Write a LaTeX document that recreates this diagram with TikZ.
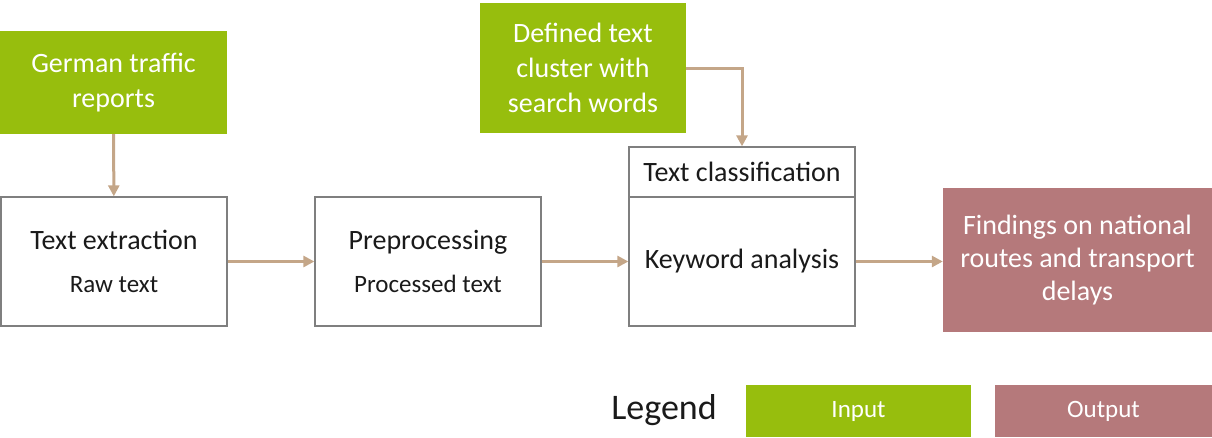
\documentclass[tikz,border=0pt]{standalone}
\usepackage{fontspec}
\setmainfont{Carlito}
\usetikzlibrary{arrows.meta, positioning}
\definecolor{cinput}{HTML}{97BE0D}
\definecolor{coutput}{HTML}{B5797B}
\definecolor{carrow}{HTML}{C4A688}
\definecolor{cframe}{HTML}{7F7F7F}
\definecolor{ctext}{HTML}{1A1A1A}
\tikzset{
  every picture/.style={x=1pt, y=-1pt},
  stepbox/.style={draw=cframe, line width=1.3pt, fill=white, align=center, text=ctext, inner sep=0pt, minimum width=226pt, minimum height=129pt, font=\fontsize{28}{34}\selectfont},
  inbox/.style={fill=cinput, text=white, align=center, inner sep=0pt, font=\fontsize{28}{35}\selectfont},
  outbox/.style={fill=coutput, text=white, align=center, inner sep=0pt, font=\fontsize{28}{33}\selectfont},
  flow/.style={-{Triangle[length=11pt, width=11pt]}, draw=carrow, line width=3pt},
}
\newcommand{\subline}[1]{{\fontsize{25}{30}\selectfont #1}}

\begin{document}
\begin{tikzpicture}
  \useasboundingbox (0,0) rectangle (1212,437);
  % inputs
  \node[inbox, minimum width=227pt, minimum height=103pt] (reports) at (113.5,82.5) {German traffic\\reports};
  \node[inbox, minimum width=206pt, minimum height=130pt] (cluster) at (583,68) {Defined text\\cluster with\\search words};
  % process steps
  \node[stepbox] (extract) at (114,261.5) {Text extraction\\[9pt]\subline{Raw text}};
  \node[stepbox] (prep) at (428,261.5) {Preprocessing\\[9pt]\subline{Processed text}};
  \node[stepbox, minimum height=50pt] (classhead) at (742,172) {Text classification};
  \node[stepbox] (keyword) at (742,261.5) {Keyword analysis};
  % output
  \node[outbox, minimum width=269pt, minimum height=144pt] (findings) at (1077.5,260) {Findings on national\\routes and transport\\delays};
  % connectors
  \draw[flow] (reports) -- (extract);
  \draw[flow] (extract) -- (prep);
  \draw[flow] (prep) -- (keyword);
  \draw[flow] (keyword.east) -- (keyword.east -| findings.west);
  \draw[flow] (cluster.east) -| (classhead.north);
  % legend
  \node[text=ctext, font=\fontsize{36}{40}\selectfont] (legend) at (664,410) {Legend};
  \node[inbox, minimum width=225pt, minimum height=52pt] (leginput) at (858.5,411) {\subline{Input}};
  \node[outbox, minimum width=217pt, minimum height=52pt] (legoutput) at (1103.5,411) {\subline{Output}};
\end{tikzpicture}
\end{document}
